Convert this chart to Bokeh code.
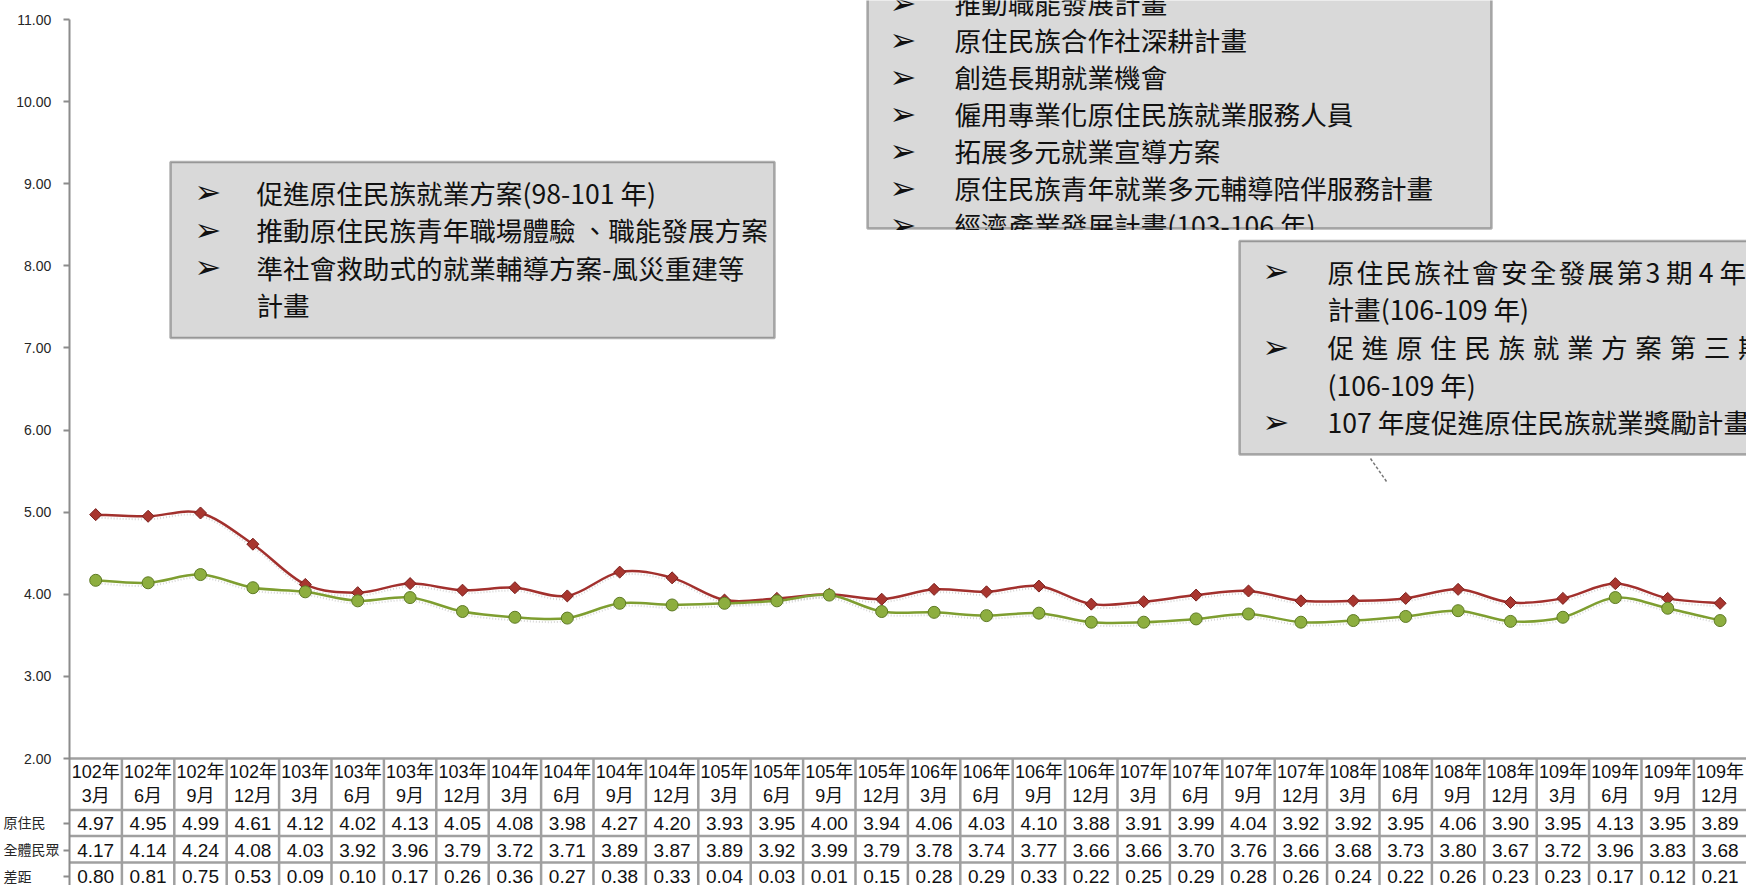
import numpy as np
from bokeh.plotting import figure
from bokeh.models import Range1d, FixedTicker, NumeralTickFormatter, Label, BoxAnnotation, ColumnDataSource
from bokeh.core.properties import value
from bokeh.embed import file_html
from bokeh.resources import INLINE

# ---------------- data ----------------
years = ["102年", "102年", "102年", "102年", "103年", "103年", "103年", "103年",
         "104年", "104年", "104年", "104年", "105年", "105年", "105年", "105年",
         "106年", "106年", "106年", "106年", "107年", "107年", "107年", "107年",
         "108年", "108年", "108年", "108年", "109年", "109年", "109年", "109年"]
months = ["3月", "6月", "9月", "12月", "3月", "6月", "9月", "12月",
          "3月", "6月", "9月", "12月", "3月", "6月", "9月", "12月",
          "3月", "6月", "9月", "12月", "3月", "6月", "9月", "12月",
          "3月", "6月", "9月", "12月", "3月", "6月", "9月", "12月"]
aboriginal = [4.97, 4.95, 4.99, 4.61, 4.12, 4.02, 4.13, 4.05, 4.08, 3.98,
              4.27, 4.20, 3.93, 3.95, 4.00, 3.94, 4.06, 4.03, 4.10, 3.88,
              3.91, 3.99, 4.04, 3.92, 3.92, 3.95, 4.06, 3.90, 3.95, 4.13,
              3.95, 3.89]
national = [4.17, 4.14, 4.24, 4.08, 4.03, 3.92, 3.96, 3.79, 3.72, 3.71,
            3.89, 3.87, 3.89, 3.92, 3.99, 3.79, 3.78, 3.74, 3.77, 3.66,
            3.66, 3.70, 3.76, 3.66, 3.68, 3.73, 3.80, 3.67, 3.72, 3.96,
            3.83, 3.68]
gap = [0.80, 0.81, 0.75, 0.53, 0.09, 0.10, 0.17, 0.26, 0.36, 0.27,
       0.38, 0.33, 0.04, 0.03, 0.01, 0.15, 0.28, 0.29, 0.33, 0.22,
       0.25, 0.29, 0.28, 0.26, 0.24, 0.22, 0.26, 0.23, 0.23, 0.17,
       0.12, 0.21]
row_labels = ["原住民", "全體民眾", "差距"]
y_ticks = [2, 3, 4, 5, 6, 7, 8, 9, 10, 11]

box1_lines = ["促進原住民族就業方案(98-101 年)",
              "推動原住民族青年職場體驗 、職能發展方案",
              "準社會救助式的就業輔導方案-風災重建等",
              "計畫"]
box1_arrows = [True, True, True, False]
box2_lines = ["推動職能發展計畫",
              "原住民族合作社深耕計畫",
              "創造長期就業機會",
              "僱用專業化原住民族就業服務人員",
              "拓展多元就業宣導方案",
              "原住民族青年就業多元輔導陪伴服務計畫",
              "經濟產業發展計畫(103-106 年)"]
box3_line1_head = "原住民族社會安全發展第"
box3_line1_tail = " 3 期 4 年"
box3_line2 = "計畫(106-109 年)"
box3_line3 = "促進原住民族就業方案第三期"
box3_line4 = "(106-109 年)"
box3_line5 = "107 年度促進原住民族就業獎勵計畫"

# ---------------- layout helpers (reference screen px -> data) ----------------
FIG_W, FIG_H = 1746, 885
PAGE_OFF = 0
AXIS_SX = 69.0
COL_W = 52.4
Y2_SY = 758.0
PX_PER_UNIT = 82.11


def X(sx):
    return (sx - AXIS_SX) / COL_W


def Y(sy):
    return 2.0 - (sy - Y2_SY) / PX_PER_UNIT


n = len(years)
xc = np.arange(n) + 0.5

p = figure(width=FIG_W, height=FIG_H, output_backend="svg", toolbar_location=None,
           x_range=Range1d(X(AXIS_SX), X(PAGE_OFF + FIG_W)),
           y_range=Range1d(Y(PAGE_OFF + FIG_H), Y(PAGE_OFF)),
           x_axis_location=None,
           min_border_left=int(AXIS_SX - PAGE_OFF), min_border_right=0,
           min_border_top=0, min_border_bottom=0)
p.outline_line_color = None
p.grid.visible = False
p.background_fill_color = "white"
p.border_fill_color = "white"

grid_col = "#a0a0a0"
row_tops_sy = [809.5, 835.5, 862.0]
row_center_sy = [823, 849.5, 876]

# row labels of the data table are drawn as tick labels of the y axis;
# trailing spaces only shift the right-aligned labels to the left
row_tick_vals = [round(Y(s), 5) for s in row_center_sy]
row_label_pads = ["\u2003", "", "\u2003\u2003"]
overrides = {v: lab + pad for v, lab, pad in zip(row_tick_vals, row_labels, row_label_pads)}
for t in y_ticks:
    overrides[t] = f"{t:.2f}" + "\u2002\u200A"

ax = p.yaxis[0]
ax.ticker = FixedTicker(ticks=y_ticks + row_tick_vals)
ax.formatter = NumeralTickFormatter(format="0.00")
ax.major_label_overrides = overrides
ax.bounds = (Y(PAGE_OFF + FIG_H), 11)
ax.axis_line_color = "#8c8c8c"
ax.axis_line_width = 2
ax.major_tick_line_color = "#8c8c8c"
ax.major_tick_line_width = 2
ax.major_tick_out = 6
ax.major_tick_in = 0
ax.minor_tick_out = 0
ax.minor_tick_in = 0
ax.axis_label_standoff = 0
ax.major_label_standoff = 4
ax.major_label_text_font = "Liberation Sans, Noto Sans CJK TC"
ax.major_label_text_font_size = "14px"
ax.major_label_text_color = "#262626"


# ---------------- smooth lines ----------------
def smooth(xs, ys):
    xs = np.asarray(xs, float)
    ys = np.asarray(ys, float)
    px = np.concatenate([[xs[0]], xs, [xs[-1]]])
    py = np.concatenate([[ys[0]], ys, [ys[-1]]])
    return dict(x0=px[1:-2], y0=py[1:-2], x1=px[2:-1], y1=py[2:-1],
                cx0=px[1:-2] + (px[2:-1] - px[0:-3]) / 6.0,
                cy0=py[1:-2] + (py[2:-1] - py[0:-3]) / 6.0,
                cx1=px[2:-1] - (px[3:] - px[1:-2]) / 6.0,
                cy1=py[2:-1] - (py[3:] - py[1:-2]) / 6.0)


shadow_dy = 3.0 / PX_PER_UNIT
for series in (aboriginal, national):
    sh = ColumnDataSource(smooth(xc, np.asarray(series) - shadow_dy))
    p.bezier(x0="x0", y0="y0", x1="x1", y1="y1", cx0="cx0", cy0="cy0",
             cx1="cx1", cy1="cy1", source=sh, line_color="#9a9a9a",
             line_alpha=0.4, line_width=2, line_dash="1 2")

red_src = ColumnDataSource(smooth(xc, aboriginal))
green_src = ColumnDataSource(smooth(xc, national))
p.bezier(x0="x0", y0="y0", x1="x1", y1="y1", cx0="cx0", cy0="cy0",
         cx1="cx1", cy1="cy1", source=red_src, line_color="#A2302D", line_width=2.5)
p.bezier(x0="x0", y0="y0", x1="x1", y1="y1", cx0="cx0", cy0="cy0",
         cx1="cx1", cy1="cy1", source=green_src, line_color="#7E9E30", line_width=2.5)

p.scatter(xc, aboriginal, marker="square", angle=np.pi / 4, size=8.5,
          fill_color="#A8362F", line_color="#7A1F1C", line_width=1)
p.scatter(xc, national, marker="circle", size=12,
          fill_color="#8DAE3F", line_color="#5E7A24", line_width=1)

# ---------------- data table ----------------
p.segment(x0=np.arange(1, n), y0=2, x1=np.arange(1, n), y1=Y(900),
          line_color=grid_col, line_width=2.5)
p.segment(x0=0, x1=n, y0=[2.0] + [Y(s) for s in row_tops_sy],
          y1=[2.0] + [Y(s) for s in row_tops_sy], line_color=grid_col, line_width=2.5)

hdr_font = value("Liberation Sans, Noto Sans CJK TC")
p.text(x=xc, y=Y(771), text=years, text_align="center", text_baseline="middle",
       text_font=hdr_font, text_font_size="18px", text_color="#111111")
p.text(x=xc, y=Y(795), text=months, text_align="center", text_baseline="middle",
       text_font=hdr_font, text_font_size="18px", text_color="#111111")

for series, sy in zip((aboriginal, national, gap), row_center_sy):
    p.text(x=xc, y=Y(sy), text=[f"{v:.2f}" for v in series], text_align="center",
           text_baseline="middle", text_font=value("Liberation Sans"),
           text_font_size="19px", text_color="#111111")

# ---------------- annotation boxes ----------------
BOX_FILL = "#D9D9D9"
TXT_FONT = "Noto Sans CJK TC"
TXT_SIZE = "26.6px"
ARROW = "\u27A2"


def box(l, t, r, b):
    p.add_layout(BoxAnnotation(left=X(l), right=X(r), top=Y(t), bottom=Y(b),
                               fill_color=BOX_FILL, fill_alpha=1,
                               line_color="black", line_width=2.5))


def text(sx, sy, s, font=TXT_FONT, size=TXT_SIZE, align="left"):
    p.add_layout(Label(x=X(sx), y=Y(sy), text=s, text_font=font, text_font_size=size,
                       text_align=align, text_baseline="middle", text_color="#111111"))


def arrow(sx, sy):
    text(sx, sy, ARROW, font="DejaVu Sans", size="32px")


box(170, 161.5, 774, 337.5)
box(867, -30, 1491, 228)

# box 1
for i, (s, a) in enumerate(zip(box1_lines, box1_arrows)):
    sy = 191.5 + i * 37.6
    if a:
        arrow(194, sy)
    text(256, sy, s)

# box 2
for i, s in enumerate(box2_lines):
    sy = 2.0 + i * 37.0
    arrow(889, sy)
    text(954, sy, s)

# mask the overflowing last line of box 2 (clipped by the box in the original)
p.add_layout(BoxAnnotation(left=X(860), right=X(1500), top=Y(229.6), bottom=Y(247),
                           fill_color="white", fill_alpha=1, line_color=None))

# box 3
box(1239, 240.5, 1800, 454)
b3_y = [270.5, 308, 346, 383.5, 421]
arrow(1262, b3_y[0])
for i, ch in enumerate(box3_line1_head):
    text(1327 + i * 28.9, b3_y[0], ch)
text(1327 + len(box3_line1_head) * 28.9, b3_y[0], box3_line1_tail)
text(1327, b3_y[1], box3_line2)
arrow(1262, b3_y[2])
for i, ch in enumerate(box3_line3):
    text(1327 + i * 34.2, b3_y[2], ch)
text(1327, b3_y[3], box3_line4)
arrow(1262, b3_y[4])
text(1327, b3_y[4], box3_line5)

# dashed leader line below box 3
p.line(x=[X(1370), X(1386)], y=[Y(458), Y(481)], line_color="#777777",
       line_width=1.5, line_dash="3 2")

open("out.html", "w").write(file_html(p, INLINE))
